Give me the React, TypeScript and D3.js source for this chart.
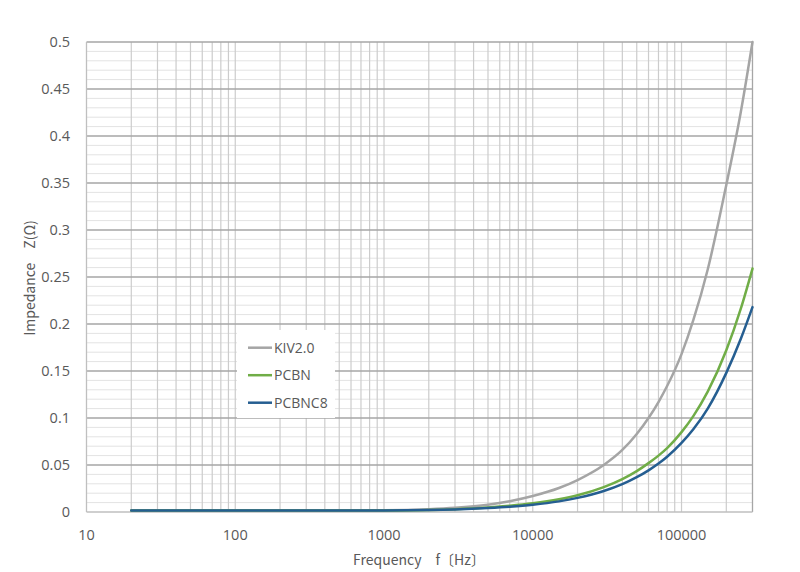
import { useEffect, useRef } from "react";
import * as d3 from "d3";

const freqs = [
  20, 50, 100, 200, 500, 1000, 2000, 3000, 5000, 7000, 10000, 15000, 20000,
  30000, 40000, 50000, 60000, 70000, 80000, 100000, 120000, 150000, 200000,
  250000, 300000,
];

const kiv20 = [
  0.0015, 0.0015, 0.0015, 0.0015, 0.0016, 0.0018, 0.003, 0.0045, 0.0078, 0.0115,
  0.017, 0.0255, 0.034, 0.05, 0.066, 0.083, 0.1, 0.117, 0.134, 0.168, 0.204,
  0.258, 0.348, 0.425, 0.5,
];

const pcbn = [
  0.0015, 0.0015, 0.0015, 0.0015, 0.0015, 0.0016, 0.0022, 0.003, 0.0048, 0.0066,
  0.0092, 0.0135, 0.0178, 0.0265, 0.035, 0.0435, 0.052, 0.06, 0.068, 0.085,
  0.102, 0.128, 0.172, 0.216, 0.259,
];

const pcbnc8 = [
  0.0015, 0.0015, 0.0015, 0.0015, 0.0015, 0.0016, 0.002, 0.0027, 0.0042, 0.0056,
  0.0077, 0.0113, 0.015, 0.0223, 0.0296, 0.037, 0.0443, 0.0515, 0.0588, 0.0735,
  0.088, 0.11, 0.148, 0.184, 0.218,
];

const seriesNames = ["KIV2.0", "PCBN", "PCBNC8"];
const seriesColors = ["#a5a5a5", "#70ad47", "#255e91"];
const xTicks = [10, 100, 1000, 10000, 100000];
const yTicks = [0, 0.05, 0.1, 0.15, 0.2, 0.25, 0.3, 0.35, 0.4, 0.45, 0.5];

export default function App() {
  const svgRef = useRef<SVGSVGElement>(null);
  const width = 800;
  const height = 572;

  useEffect(() => {
    if (!svgRef.current) return;
    const svg = d3.select(svgRef.current);
    svg.selectAll("*").remove();

    const left = 86.5;
    const right = 752.5;
    const top = 42;
    const bottom = 512;

    const x = d3.scaleLog().domain([10, 300000]).range([left, right]);
    const y = d3.scaleLinear().domain([0, 0.5]).range([bottom, top]);

    const tickFont = "'Open Sans', 'Noto Sans', sans-serif";
    const titleFont = "'Noto Sans CJK JP', 'Noto Sans', sans-serif";
    const textColor = "#595959";

    svg.append("rect").attr("width", width).attr("height", height).attr("fill", "#fff");

    // minor horizontal grid
    const minorY = d3.range(0, 0.5001, 0.01).filter((v) => Math.round(v * 100) % 5 !== 0);
    svg.append("g")
      .selectAll("line")
      .data(minorY)
      .join("line")
      .attr("x1", left)
      .attr("x2", right)
      .attr("y1", (d) => y(d))
      .attr("y2", (d) => y(d))
      .attr("stroke", "#e3e3e3")
      .attr("stroke-width", 1);

    // vertical grid (log)
    const vLines: number[] = [];
    for (let p = 10; p <= 100000; p *= 10) {
      for (let m = 1; m <= 9; m++) {
        const v = p * m;
        if (v > 10 && v < 300000) vLines.push(v);
      }
    }
    svg.append("g")
      .selectAll("line")
      .data(vLines)
      .join("line")
      .attr("x1", (d) => x(d))
      .attr("x2", (d) => x(d))
      .attr("y1", top)
      .attr("y2", bottom)
      .attr("stroke", "#cccccc")
      .attr("stroke-width", 1.2);

    // major horizontal grid
    svg.append("g")
      .selectAll("line")
      .data(yTicks.slice(1))
      .join("line")
      .attr("x1", left)
      .attr("x2", right)
      .attr("y1", (d) => y(d))
      .attr("y2", (d) => y(d))
      .attr("stroke", "#a6a6a6")
      .attr("stroke-width", 1.3);

    // axes frame
    svg.append("line")
      .attr("x1", left).attr("x2", left).attr("y1", top).attr("y2", bottom)
      .attr("stroke", "#bfbfbf").attr("stroke-width", 1.3);
    svg.append("line")
      .attr("x1", right).attr("x2", right).attr("y1", top).attr("y2", bottom)
      .attr("stroke", "#a6a6a6").attr("stroke-width", 1.3);
    svg.append("line")
      .attr("x1", left).attr("x2", right).attr("y1", bottom).attr("y2", bottom)
      .attr("stroke", "#bfbfbf").attr("stroke-width", 1.3);

    // y tick labels
    svg.append("g")
      .selectAll("text")
      .data(yTicks)
      .join("text")
      .attr("x", 70)
      .attr("y", (d) => y(d) + 5)
      .attr("text-anchor", "end")
      .attr("font-family", tickFont)
      .attr("font-size", 14.5)
      .attr("fill", textColor)
      .text((d) => String(d));

    // x tick labels
    svg.append("g")
      .selectAll("text")
      .data(xTicks)
      .join("text")
      .attr("x", (d) => x(d))
      .attr("y", 540)
      .attr("text-anchor", "middle")
      .attr("font-family", tickFont)
      .attr("font-size", 14.5)
      .attr("fill", textColor)
      .text((d) => String(d));

    // axis titles
    svg.append("text")
      .attr("x", 419)
      .attr("y", 565)
      .attr("text-anchor", "middle")
      .attr("font-family", titleFont)
      .attr("font-size", 14)
      .attr("fill", textColor)
      .text("Frequency\u3000f〔Hz〕");

    svg.append("text")
      .attr("transform", "translate(35,278) rotate(-90)")
      .attr("text-anchor", "middle")
      .attr("font-family", titleFont)
      .attr("font-size", 14)
      .attr("fill", textColor)
      .text("Impedance\u3000Z(Ω)");

    // series
    const allSeries = [kiv20, pcbn, pcbnc8];
    const line = d3
      .line<number>()
      .x((_, i) => x(freqs[i]))
      .y((d) => y(d))
      .curve(d3.curveMonotoneX);

    const plot = svg.append("g");
    allSeries.forEach((vals, i) => {
      plot.append("path")
        .datum(vals)
        .attr("d", line)
        .attr("fill", "none")
        .attr("stroke", seriesColors[i])
        .attr("stroke-width", 2.5)
        .attr("stroke-linecap", "round");
    });

    // legend
    const lg = svg.append("g");
    lg.append("rect")
      .attr("x", 237)
      .attr("y", 330)
      .attr("width", 98)
      .attr("height", 88)
      .attr("fill", "#fff");
    seriesNames.forEach((name, i) => {
      const ly = 347.7 + i * 27.5;
      lg.append("line")
        .attr("x1", 248).attr("x2", 272).attr("y1", ly).attr("y2", ly)
        .attr("stroke", seriesColors[i]).attr("stroke-width", 2.5);
      lg.append("text")
        .attr("x", 274)
        .attr("y", ly + 5)
        .attr("font-family", tickFont)
        .attr("font-size", 14)
        .attr("fill", textColor)
        .text(name);
    });

    return () => {
      svg.selectAll("*").remove();
    };
  }, []);

  return (
    <svg
      ref={svgRef}
      width={width}
      height={height}
      style={{ position: "absolute", left: 0, top: 0 }}
    />
  );
}
